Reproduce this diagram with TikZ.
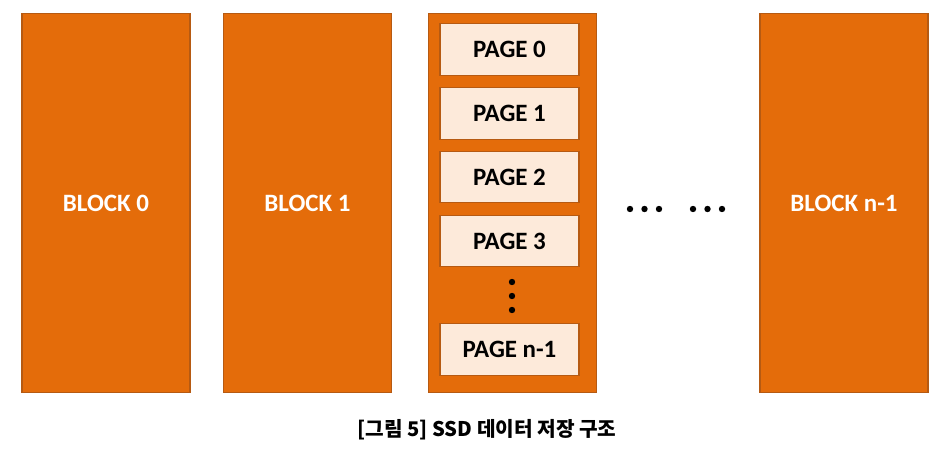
\documentclass[tikz,border=0pt]{standalone}
\usepackage{fontspec}
\setmainfont{Carlito}
\newfontfamily\krfont{Noto Sans CJK KR}
\usetikzlibrary{positioning}
\definecolor{blockorange}{HTML}{E46C0A}
\definecolor{blockedge}{HTML}{B65A12}
\definecolor{pagefill}{HTML}{FDEADA}

\begin{document}
\begin{tikzpicture}[x=0.02cm,y=-0.02cm,
	block/.style={draw=blockedge,fill=blockorange,line width=0.6pt,
		minimum width=3.36cm,minimum height=7.6cm,inner sep=0pt,
		text=white,font=\fontsize{14.2}{16}\selectfont\bfseries},
	pagebox/.style={draw=blockedge,fill=pagefill,line width=0.6pt,
		minimum width=2.78cm,minimum height=1.03cm,inner sep=0pt,
		font=\fontsize{14.2}{16}\selectfont\bfseries}
]
\useasboundingbox (0,0) rectangle (950,452);

% blocks
\node[block] (block0) at (106,203) {BLOCK 0};
\node[block] (block1) at (307.5,203) {BLOCK 1};
\node[block] (block2) at (512.5,203) {};
\node[block] (blockn) at (844,203) {BLOCK n-1};

% pages of block 2
\node[pagebox] (page0) at (509.5,49.5) {PAGE 0};
\node[pagebox] (page1) at (509.5,113.5) {PAGE 1};
\node[pagebox] (page2) at (509.5,177) {PAGE 2};
\node[pagebox] (page3) at (509.5,241) {PAGE 3};
\node[pagebox] (pagen) at (509.5,349.5) {PAGE n-1};

% dots
\fill (512,282) circle (3.2);
\fill (512,296) circle (3.2);
\fill (512,310) circle (3.2);
\fill (630,209) circle (3.2);
\fill (644.5,209) circle (3.2);
\fill (659,209) circle (3.2);
\fill (693,209) circle (3.2);
\fill (707.5,209) circle (3.2);
\fill (722,209) circle (3.2);

\node[font=\krfont\fontsize{11.5}{13}\selectfont\bfseries] (caption) at (487,430) {[그림 5] SSD 데이터 저장 구조};
\end{tikzpicture}
\end{document}
